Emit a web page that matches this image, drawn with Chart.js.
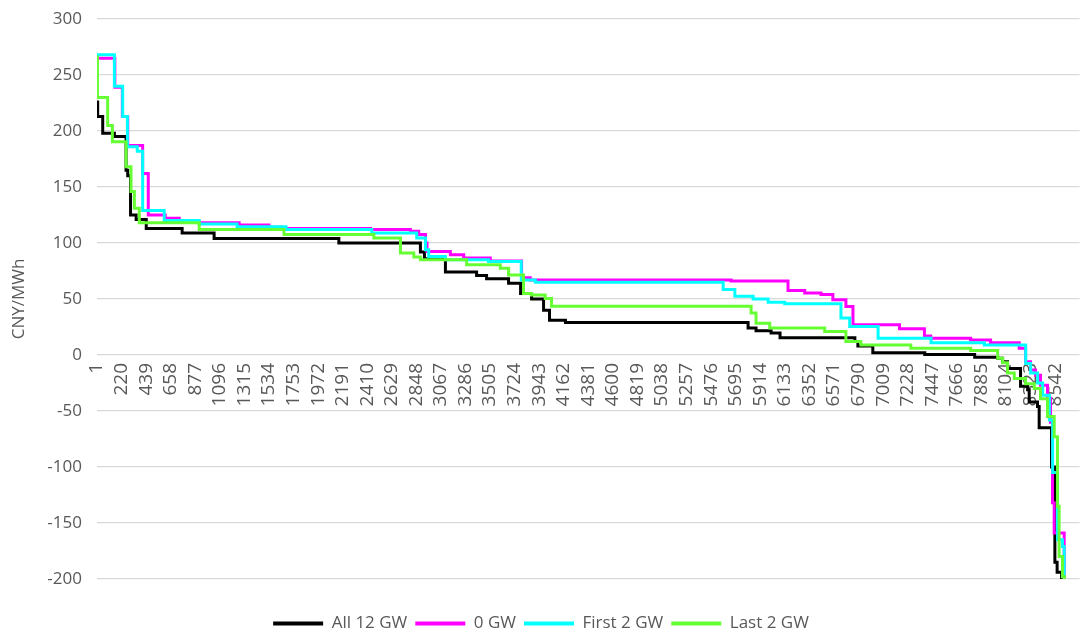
<!DOCTYPE html>
<html>
<head>
<meta charset="utf-8">
<script src="https://cdn.jsdelivr.net/npm/chart.js@4.4.0/dist/chart.umd.min.js"></script>
<style>
  html, body { margin: 0; padding: 0; background: #fff; }
  #wrap { width: 1086px; height: 632px; }
</style>
</head>
<body>
<div id="wrap"><canvas id="chart" width="1086" height="632"></canvas></div>
<script>
// price duration curves, hour where each level starts + price (CNY/MWh)
const all12Hours  = [1, 7, 52, 156, 260, 275, 300, 350, 440, 760, 1045, 2157, 2884, 2920, 3107, 3385, 3474, 3670, 3777, 3875, 3982, 4035, 4177, 5805, 5876, 6010, 6090, 6757, 6784, 6917, 7380, 7825, 8030, 8074, 8118, 8234, 8297, 8311, 8385, 8400, 8510, 8540, 8560, 8600];
const all12Prices = [226, 213, 198, 195, 165, 160, 125, 121, 113, 109, 104, 100, 92, 86, 74, 71, 68, 64, 55, 50, 40, 31, 29, 24, 21.7, 19.6, 15.5, 12, 8, 2, 0.5, -2, -3, -6, -12, -28, -31, -42, -46, -65, -100, -185, -194, -260];

const zeroHours  = [1, 160, 227, 275, 408, 458, 609, 734, 912, 1268, 1534, 1650, 2440, 2795, 2869, 2930, 2943, 3151, 3270, 3507, 3786, 3863, 5654, 6161, 6310, 6455, 6561, 6677, 6740, 7155, 7377, 7433, 7789, 7967, 8222, 8279, 8323, 8368, 8412, 8474, 8501, 8519, 8534, 8623];
const zeroPrices = [265, 239, 213, 187, 162, 125, 122, 119, 118, 116, 114, 113, 112, 110.5, 107.5, 100, 92.5, 89.5, 86.5, 84, 69, 67, 66, 57.5, 55.4, 54, 49.4, 43.4, 27, 23.4, 17, 15, 13.5, 11, 6, -6, -13.5, -18, -27, -38.6, -60, -132, -159, -250];

const first2Hours  = [1, 156, 230, 272, 360, 408, 600, 912, 1250, 1686, 2451, 2851, 2929, 2958, 3107, 3492, 3783, 3908, 5583, 5687, 5850, 5984, 6132, 6633, 6711, 6964, 7436, 7911, 8280, 8324, 8386, 8431, 8491, 8520, 8564, 8608, 8623];
const first2Prices = [268, 240, 213, 186, 182, 129, 120, 117, 114.5, 112, 109, 104.5, 94, 88, 85, 83.5, 67, 65, 58.4, 52.4, 50, 47, 45.8, 33, 25.4, 15, 11, 9, -7.5, -16, -25, -36, -58, -105, -165, -171, -250];

const last2Hours  = [1, 5, 96, 138, 260, 304, 334, 378, 912, 1668, 2469, 2706, 2825, 2884, 3296, 3596, 3670, 3803, 3875, 3997, 4053, 5832, 5876, 5998, 6488, 6677, 6811, 7256, 7789, 8030, 8074, 8118, 8178, 8279, 8356, 8412, 8474, 8534, 8563, 8578, 8608, 8625];
const last2Prices = [266, 230, 205, 190.5, 168, 146, 131, 118, 112, 107.5, 104.5, 91, 87.4, 85, 80.5, 77.5, 71.5, 55, 53.5, 50.5, 43.5, 37.4, 28.4, 24, 21, 12, 9, 6, 4, -3, -7, -16, -21, -25.7, -30, -39, -55, -73, -135, -180, -198, -250];

const hourTicks = [1, 220, 439, 658, 877, 1096, 1315, 1534, 1753, 1972, 2191, 2410, 2629, 2848, 3067, 3286, 3505, 3724, 3943, 4162, 4381, 4600, 4819, 5038, 5257, 5476, 5695, 5914, 6133, 6352, 6571, 6790, 7009, 7228, 7447, 7666, 7885, 8104, 8323, 8542];

const family = '"Open Sans", "Noto Sans", sans-serif';
const grey = '#595959';

function points(hours, prices) {
    return hours.map((h, i) => ({ x: h, y: prices[i] }));
}

// excel draws the last series on top -> lower order = drawn later
function series(label, hours, prices, color, order) {
    return {
        label,
        data: points(hours, prices),
        borderColor: color,
        backgroundColor: color,
        borderWidth: 3,
        pointRadius: 0,
        stepped: 'before',
        fill: false,
        order
    };
}

new Chart(document.getElementById('chart'), {
    type: 'line',
    data: {
        datasets: [
            series('All 12 GW', all12Hours, all12Prices, '#000000', 3),
            series('0 GW', zeroHours, zeroPrices, '#ff00ff', 2),
            series('First 2 GW', first2Hours, first2Prices, '#00ffff', 1),
            series('Last 2 GW', last2Hours, last2Prices, '#66ff33', 0)
        ]
    },
    options: {
        responsive: false,
        animation: false,
        devicePixelRatio: 1,
        layout: { padding: { top: 19, right: 4, bottom: -10, left: 0 } },
        scales: {
            x: {
                type: 'linear',
                min: 1,
                max: 8760,
                position: { y: 0 },
                afterBuildTicks: s => { s.ticks = hourTicks.map(v => ({ value: v })); },
                grid: { display: false, drawTicks: false },
                border: { display: false },
                ticks: {
                    autoSkip: false,
                    minRotation: 90,
                    maxRotation: 90,
                    padding: 8,
                    color: grey,
                    font: { family, size: 19 },
                    callback: v => String(v)
                }
            },
            y: {
                min: -200,
                max: 300,
                afterFit: s => {
                    s.width = 97;
                    // tick padding is otherwise added on top of the chart area
                    s.paddingTop = 10;
                    s.paddingBottom = 10;
                },
                grid: { color: '#d9d9d9', lineWidth: 1.3, drawTicks: false },
                border: { display: false },
                ticks: { stepSize: 50, padding: 15, color: grey, font: { family, size: 17 } },
                title: {
                    display: true,
                    text: 'CNY/MWh',
                    color: grey,
                    font: { family, size: 17 },
                    padding: { top: 9, bottom: 0 }
                }
            }
        },
        plugins: {
            legend: {
                position: 'bottom',
                // empty title only used as spacer above the items
                title: { display: true, text: '', font: { size: 10, lineHeight: 1 }, padding: { top: 0, bottom: 18 } },
                labels: {
                    boxWidth: 50,
                    boxHeight: 4,
                    padding: 8,
                    color: grey,
                    font: { family, size: 17 },
                    sort: (a, b) => a.datasetIndex - b.datasetIndex,
                    generateLabels: chart => Chart.defaults.plugins.legend.labels.generateLabels(chart)
                        .map(l => Object.assign(l, { lineWidth: 0 }))
                }
            },
            tooltip: { enabled: false }
        }
    }
});
</script>
</body>
</html>
